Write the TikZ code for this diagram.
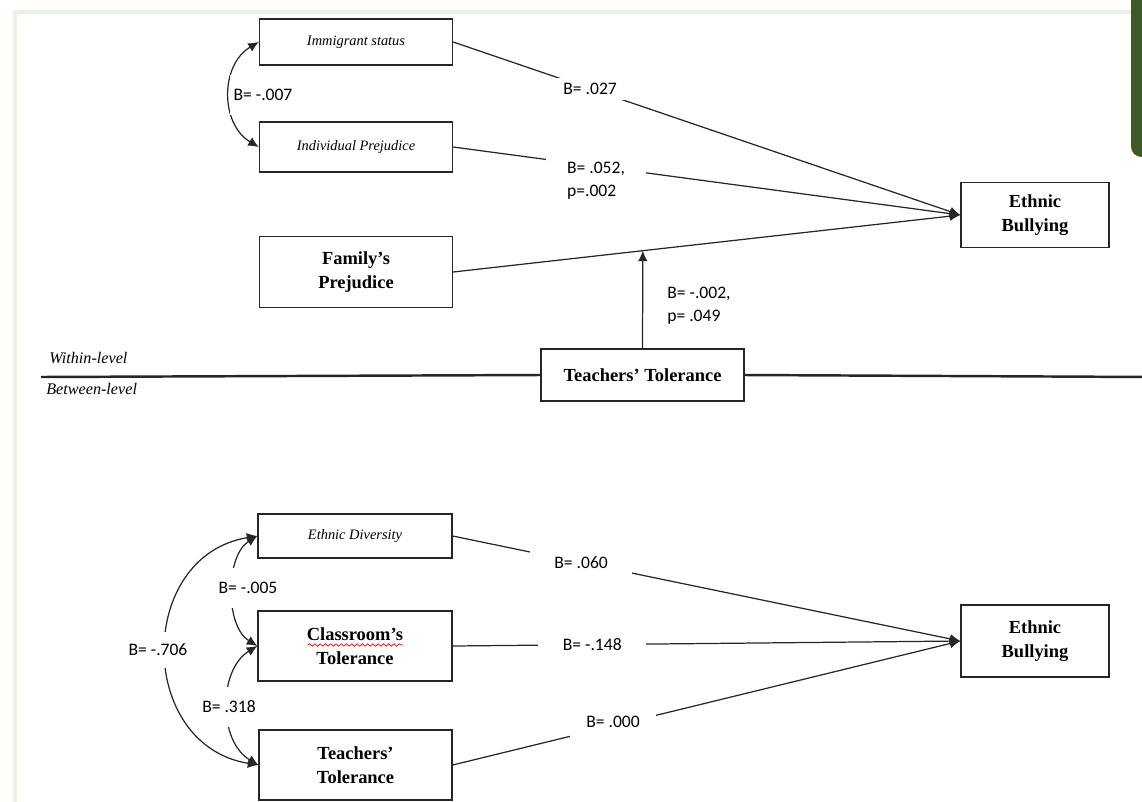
\documentclass[tikz,border=0pt]{standalone}
\usepackage{fontspec}
\setmainfont{Liberation Serif}
\setsansfont{Carlito}
\usepackage{tikz}
\usetikzlibrary{arrows.meta,positioning,decorations.pathmorphing}
\definecolor{frame-green}{RGB}{232,242,225}
\definecolor{tab-green}{RGB}{62,90,40}
\tikzset{
  construct-box/.style={draw=black!85, fill=white, line width=0.8pt, align=center, inner sep=2pt,
    font=\rmfamily\bfseries\fontsize{10.5}{13.6}\selectfont},
  item-box/.style={draw=black!85, fill=white, line width=0.8pt, align=center, inner sep=2pt,
    font=\rmfamily\itshape\fontsize{8.2}{10}\selectfont},
  path-line/.style={draw=black!85, line width=0.7pt},
  cov-arrow/.style={draw=black!85, line width=0.7pt, {Latex[length=6pt,width=5.5pt]}-{Latex[length=6pt,width=5.5pt]}},
  coef-label/.style={fill=white, inner xsep=9pt, inner ysep=3pt, align=left,
    font=\sffamily\fontsize{10}{13}\selectfont},
  cov-label/.style={coef-label, inner xsep=2pt, inner ysep=8pt},
  level-label/.style={font=\rmfamily\itshape\fontsize{9.2}{11}\selectfont, inner sep=0pt}
}

\begin{document}
\begin{tikzpicture}[>={Latex[length=6pt,width=5.5pt]}, x=0.02cm, y=-0.02cm]
  \useasboundingbox (0,0) rectangle (1142,801);
  \clip (0,0) rectangle (1142,801);

  % Page frame and side tab
  \draw[frame-green, line width=2.3pt] (15,810) -- (15,12) -- (1131,12);
  \fill[tab-green, rounded corners=6pt] (1131,-20) rectangle (1170,157);

  % Within-level constructs
  \node[item-box, minimum width=3.86cm, minimum height=0.92cm] (imm) at (356,42) {Immigrant status};
  \node[item-box, minimum width=3.86cm, minimum height=1.0cm] (ind) at (356,147) {Individual Prejudice};
  \node[construct-box, minimum width=3.86cm, minimum height=1.42cm] (fam) at (356,272) {Family’s\\Prejudice};
  \node[construct-box, minimum width=2.96cm, minimum height=1.3cm] (eb-top) at (1035,215) {Ethnic\\Bullying};
  \node[construct-box, minimum width=4.06cm, minimum height=1.04cm] (tt-mid) at (642.5,375) {Teachers’ Tolerance};

  % Within-level paths
  \draw[path-line, ->] (imm.east) -- node[coef-label, pos=0.27] (imm-coef) {B= .027} (eb-top.west);
  \draw[path-line, ->] (ind.east) -- (eb-top.west);
  \node[coef-label, inner xsep=12pt, inner ysep=4pt] (ind-coef) at (596,181) {B= .052,\\p=.002};
  \draw[path-line, ->] (fam.east) -- coordinate[pos=0.374] (mod-hit) (eb-top.west);
  \draw[path-line, ->] (tt-mid.north) -- (mod-hit);
  \node[coef-label, fill=none, inner sep=0pt, anchor=west] (mod-coef) at (667,306) {B= -.002,\\p= .049};

  \draw[cov-arrow] (imm.west) .. controls (220,65) and (220,124) .. (ind.west);
  \node[cov-label] (imm-ind) at (263,95) {B= -.007};

  % Level divider
  \draw[draw=black!85, line width=1.4pt] (41,377) -- (tt-mid.west);
  \draw[draw=black!85, line width=1.4pt] (tt-mid.east) -- (1150,377);
  \node[level-label, anchor=west] (within) at (49,358) {Within-level};
  \node[level-label, anchor=west] (between) at (46,389) {Between-level};

  % Between-level constructs
  \node[item-box, minimum width=3.88cm, minimum height=0.88cm] (div) at (355,536) {Ethnic Diversity};
  \node[construct-box, minimum width=3.88cm, minimum height=1.4cm] (ct) at (355,646) {Classroom’s\\Tolerance};
  \node[construct-box, minimum width=3.86cm, minimum height=1.4cm] (tt-low) at (355.5,765) {Teachers’\\Tolerance};
  \node[construct-box, minimum width=2.96cm, minimum height=1.44cm] (eb-low) at (1035,641) {Ethnic\\Bullying};
  \draw[red, line width=0.4pt, decorate, decoration={snake, amplitude=0.7pt, segment length=3pt}] (308,645) -- (403,645);

  % Between-level paths
  \draw[path-line, ->] (div.east) -- node[coef-label, pos=0.253, inner xsep=14pt] (div-coef) {B= .060} (eb-low.west);
  \draw[path-line, ->] (ct.east) -- node[coef-label, pos=0.275, inner xsep=14pt] (ct-coef) {B= -.148} (eb-low.west);
  \draw[path-line, ->] (tt-low.east) -- (eb-low.west);
  \node[coef-label, inner ysep=5pt] (tt-coef) at (613,722) {B= .000};

  \draw[cov-arrow] (div.west) .. controls (225,556) and (225,626) .. (ct.west);
  \draw[cov-arrow] (ct.west) .. controls (218,670) and (218,741) .. (tt-low.west);
  \draw[cov-arrow] (div.west) .. controls (136,556) and (136,745) .. (tt-low.west);
  \node[cov-label] (div-ct) at (248,588) {B= -.005};
  \node[cov-label] (ct-tt) at (229,707) {B= .318};
  \node[cov-label, inner ysep=7pt] (div-tt) at (158,650) {B= -.706};
\end{tikzpicture}
\end{document}
